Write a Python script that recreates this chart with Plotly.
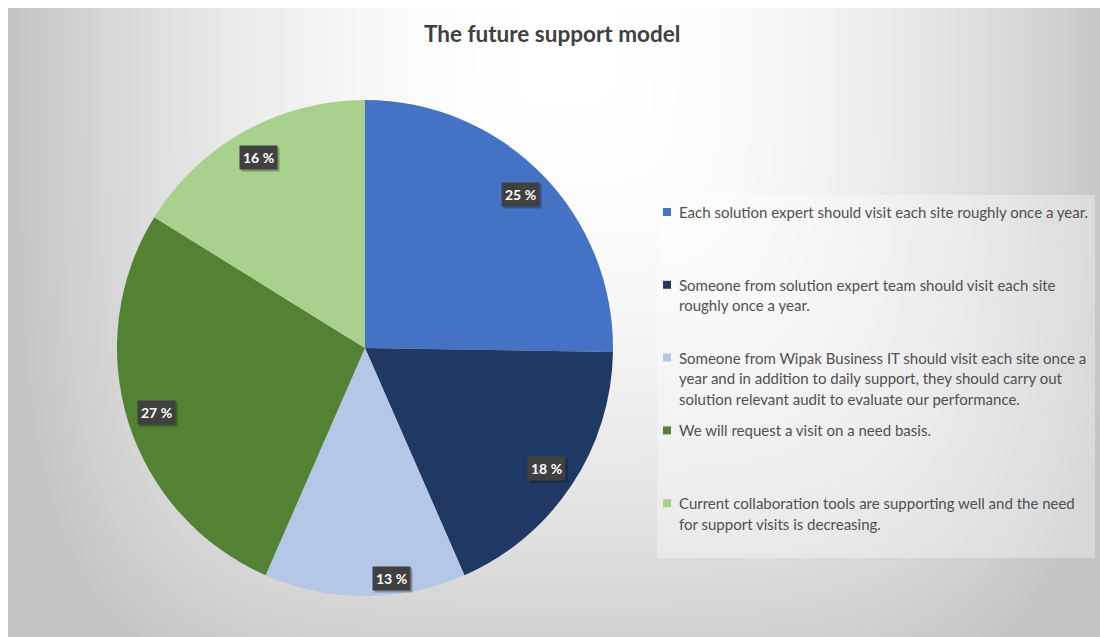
import numpy as np
import plotly.graph_objects as go

# ---- data -------------------------------------------------------------
legend_lines = [
    ["Each solution expert should visit each site roughly once a year."],
    ["Someone from solution expert team should visit each site",
     "roughly once a year."],
    ["Someone from Wipak Business IT should visit each site once a",
     "year and in addition to daily support, they should carry out",
     "solution relevant audit to evaluate our performance."],
    ["We will request a visit on a need basis."],
    ["Current collaboration tools are supporting well and the need",
     "for support visits is decreasing."],
]
labels = [" ".join(lines) for lines in legend_lines]
values = [25, 18, 13, 27, 16]
colors = ["#4472C4", "#1F3864", "#B4C7E7", "#548235", "#A9D18E"]
title = "The future support model"

# ---- layout constants (pixel space) -----------------------------------
W, H = 1100, 637
X0, Y0 = 8, 8                       # white strip at top / left
CX, CY, R = 365, 348, 248           # pie centre and radius
LABEL_R = 0.88                      # data-label distance (fraction of R)
label_nudge = [(0, 0), (0, 0), (26, 12), (0, 0), (0, 0)]

# soft radial background
nx, ny = 221, 128
gx = np.linspace(X0, W, nx)
gy = np.linspace(Y0, H, ny)
GX, GY = np.meshgrid(gx, gy)
u = (GX - 565) / 550
v = (GY - 45) / 672
t = np.clip((u ** 4 + v ** 4) ** 0.25, 0, 1)
shade = 255 - 59 * t ** 2

fig = go.Figure()
fig.add_trace(go.Heatmap(
    x=gx, y=gy, z=shade, zmin=0, zmax=255, zsmooth="best",
    colorscale=[[0, "rgb(0,0,0)"], [1, "rgb(255,255,255)"]],
    showscale=False, hoverinfo="skip",
))

plot_w, plot_h = W - X0, H - Y0
dom_x = [(CX - R - X0) / plot_w, (CX + R - X0) / plot_w]
dom_y = [(H - (CY + R)) / plot_h, (H - (CY - R)) / plot_h]

fig.add_trace(go.Pie(
    labels=labels, values=values, sort=False, direction="clockwise",
    rotation=0, marker=dict(colors=colors, line=dict(width=0)),
    textinfo="none", showlegend=False, domain=dict(x=dom_x, y=dom_y),
    hovertemplate="%{label}<br>%{value} %<extra></extra>",
))

annotations = []
shapes = []

# data labels on the slices
total = sum(values)
cum = np.cumsum(values)
for i, val in enumerate(values):
    mid = (cum[i] - val / 2) / total * 2 * np.pi
    lx = CX + LABEL_R * R * np.sin(mid) + label_nudge[i][0]
    ly = CY - LABEL_R * R * np.cos(mid) + label_nudge[i][1]
    txt = f"{val} %"
    annotations.append(dict(
        x=lx + 2, y=ly + 2, xref="x", yref="y", text=txt, showarrow=False,
        font=dict(family="Lato", size=14, color="rgba(0,0,0,0)", weight="bold"),
        bgcolor="rgba(0,0,0,0.28)", borderpad=3,
    ))
    annotations.append(dict(
        x=lx, y=ly, xref="x", yref="y", text=txt, showarrow=False,
        font=dict(family="Lato", size=14, color="white", weight="bold"),
        bgcolor="#404040", borderpad=3,
    ))

# legend panel
shapes.append(dict(
    type="rect", xref="x", yref="y", x0=657, x1=1095, y0=195, y1=558,
    fillcolor="rgba(255,255,255,0.35)", line=dict(width=0), layer="above",
))
first_y, slot, line_h = 212, 72.8, 20.5
for i, lines in enumerate(legend_lines):
    top = first_y + i * slot
    shapes.append(dict(
        type="rect", xref="x", yref="y", x0=663, x1=671,
        y0=top - 4, y1=top + 4, fillcolor=colors[i], line=dict(width=0),
    ))
    for j, line in enumerate(lines):
        annotations.append(dict(
            x=677, y=top + j * line_h, xref="x", yref="y", text=line,
            showarrow=False, xanchor="left", yanchor="middle",
            font=dict(family="Lato", size=15, color="#505050"),
        ))

# title
annotations.append(dict(
    x=552, y=33, xref="x", yref="y", text=title, showarrow=False,
    font=dict(family="Lato", size=22.5, color="#404040", weight="bold"),
))

fig.update_layout(
    width=W, height=H,
    margin=dict(l=X0, t=Y0, r=0, b=0),
    paper_bgcolor="white", plot_bgcolor="white",
    xaxis=dict(range=[X0, W], visible=False, fixedrange=True),
    yaxis=dict(range=[H, Y0], visible=False, fixedrange=True),
    annotations=annotations, shapes=shapes, showlegend=False,
)

fig.write_html("out.html")
